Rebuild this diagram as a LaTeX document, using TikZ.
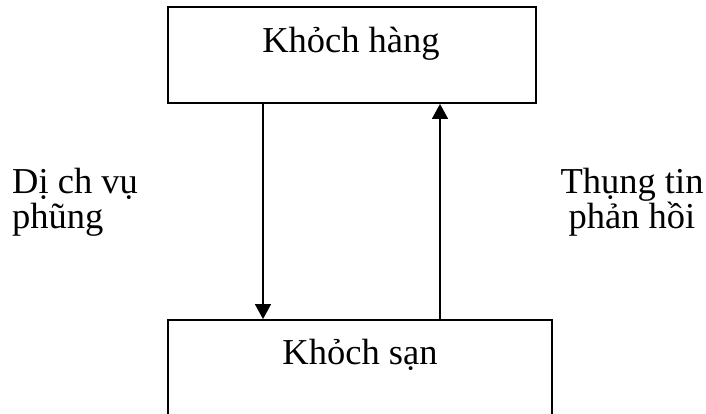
\documentclass[tikz,border=0pt]{standalone}
\usepackage{fontspec}
\setmainfont{Liberation Serif}
\usetikzlibrary{arrows.meta}
\begin{document}
\begin{tikzpicture}[x=1pt,y=-1pt,
  box/.style={draw,line width=1.8pt,minimum width=368pt,inner sep=0pt},
  arr/.style={line width=1.3pt,-{Triangle[width=16pt,length=15pt]}},
  lbl/.style={font=\fontsize{36.5}{35}\selectfont,inner sep=0pt}]
\useasboundingbox (0,0) rectangle (706,414);
\node[box,minimum width=368pt,minimum height=96pt] (kh) at (352,55) {};
\node[box,minimum width=384pt,minimum height=140pt] (ks) at (360,390) {};
\node[lbl,anchor=base] (tkh) at (351,53) {Khỏch hàng};
\node[lbl,anchor=base] (tks) at (360,364) {Khỏch sạn};
\node[lbl,anchor=base west,align=left] (dv) at (12,228) {Dị ch vụ\\phũng};
\node[lbl,anchor=base,align=center] (tt) at (632,228) {Thụng tin\\phản hồi};
\coordinate (a1) at (263,0);
\coordinate (a2) at (440,0);
\draw[arr] (kh.south -| a1) -- (ks.north -| a1);
\draw[arr] (ks.north -| a2) -- (kh.south -| a2);
\end{tikzpicture}
\end{document}
